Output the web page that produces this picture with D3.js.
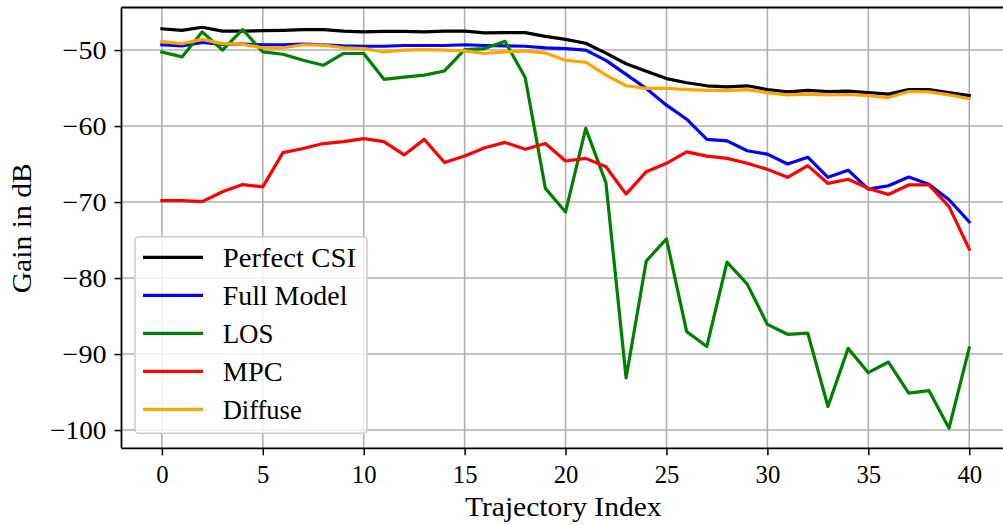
<!DOCTYPE html>
<html>
<head>
<meta charset="utf-8">
<script src="https://cdn.jsdelivr.net/npm/d3@7"></script>
<style>
  html, body { margin: 0; padding: 0; background: #fff; }
  svg { display: block; }
  text { font-family: "Liberation Serif", "DejaVu Serif", serif; fill: #000; }
</style>
</head>
<body>
<svg id="chart" width="1003" height="525"></svg>
<script>
// Trajectory indices 0..40
const trajectoryIndex = d3.range(0, 41);

// Gain per trajectory point, dB
const perfectCSI = [-47.2, -47.4, -47.0, -47.5, -47.5, -47.45, -47.4, -47.3, -47.3, -47.5,
  -47.6, -47.55, -47.55, -47.6, -47.5, -47.5, -47.75, -47.7, -47.7, -48.2,
  -48.6, -49.1, -50.4, -51.8, -52.8, -53.75, -54.3, -54.7, -54.85, -54.7,
  -55.2, -55.5, -55.3, -55.45, -55.4, -55.6, -55.8, -55.2, -55.2, -55.6, -56.0];

const fullModel = [-49.3, -49.45, -49.0, -49.25, -49.2, -49.3, -49.3, -49.2, -49.3, -49.45,
  -49.5, -49.5, -49.4, -49.4, -49.4, -49.3, -49.4, -49.45, -49.5, -49.7,
  -49.8, -50.0, -51.35, -53.2, -55.05, -57.25, -59.1, -61.75, -61.95, -63.25,
  -63.7, -65.0, -64.1, -66.75, -65.8, -68.3, -67.85, -66.7, -67.65, -69.7, -72.6];

const los = [-50.25, -50.9, -47.6, -50.0, -47.3, -50.25, -50.55, -51.35, -52.0, -50.45,
  -50.45, -53.85, -53.55, -53.3, -52.75, -49.95, -49.8, -48.85, -53.6, -68.2,
  -71.3, -60.3, -67.45, -93.15, -77.75, -74.85, -87.05, -89.0, -77.9, -80.8,
  -86.1, -87.4, -87.25, -96.9, -89.25, -92.45, -91.05, -95.15, -94.8, -99.75, -89.2];

const mpc = [-69.8, -69.8, -69.95, -68.65, -67.7, -68.0, -63.5, -62.95, -62.3, -62.05,
  -61.65, -62.05, -63.8, -61.75, -64.8, -63.95, -62.85, -62.15, -63.05, -62.3,
  -64.6, -64.25, -65.35, -68.95, -66.0, -64.9, -63.4, -63.95, -64.25, -64.9,
  -65.7, -66.75, -65.2, -67.55, -67.0, -68.2, -69.0, -67.75, -67.75, -70.6, -76.2];

const diffuse = [-48.9, -49.15, -48.6, -49.15, -49.25, -49.7, -49.7, -49.3, -49.35, -49.7,
  -49.8, -50.25, -50.0, -49.95, -50.0, -50.1, -50.45, -50.25, -50.1, -50.4,
  -51.35, -51.6, -53.3, -54.7, -55.05, -55.05, -55.2, -55.3, -55.35, -55.2,
  -55.6, -55.9, -55.8, -55.9, -55.85, -56.0, -56.25, -55.45, -55.5, -55.9, -56.4];

const seriesNames = ["Perfect CSI", "Full Model", "LOS", "MPC", "Diffuse"];
const seriesValues = [perfectCSI, fullModel, los, mpc, diffuse];
const seriesColors = ["#000000", "#0000ff", "#008000", "#ff0000", "#ffa500"];

const xTicks = [0, 5, 10, 15, 20, 25, 30, 35, 40];
const yTicks = [-100, -90, -80, -70, -60, -50];

const svg = d3.select("#chart");
const plot = { left: 121.5, right: 1009.6, top: 7.5, bottom: 448.3 };

const x = d3.scaleLinear().domain([-2, 42]).range([plot.left, plot.right]);
const y = d3.scaleLinear().domain([-102.4, -44.4]).range([plot.bottom, plot.top]);

const fmtMinus = v => (v < 0 ? "\u2212" + Math.abs(v) : String(v));
// width of a numeric label set in a wide book-style serif
const labelWidth = s => 24.7 * ((s.startsWith("\u2212") ? 0.778 : 0) + 0.5 * s.replace("\u2212", "").length);
// a wider serif look for words, approximated per string
const wordWidths = {
  "Perfect CSI": 133.3, "Full Model": 124.7, "LOS": 50.7, "MPC": 60, "Diffuse": 79,
  "Trajectory Index": 196.7, "Gain in dB": 130
};

// grid
const grid = svg.append("g");
grid.selectAll("line.gx").data(xTicks).join("line")
  .attr("x1", d => x(d)).attr("x2", d => x(d))
  .attr("y1", plot.top).attr("y2", plot.bottom)
  .attr("stroke", "#b0b0b0").attr("stroke-width", 1.6);
grid.selectAll("line.gy").data(yTicks).join("line")
  .attr("x1", plot.left).attr("x2", plot.right)
  .attr("y1", d => y(d)).attr("y2", d => y(d))
  .attr("stroke", "#b0b0b0").attr("stroke-width", 1.6);

// series lines
const line = d3.line().x((d, i) => x(trajectoryIndex[i])).y(d => y(d));
const lines = svg.append("g");
seriesValues.forEach((vals, k) => {
  lines.append("path")
    .attr("d", line(vals))
    .attr("fill", "none")
    .attr("stroke", seriesColors[k])
    .attr("stroke-width", 3.2)
    .attr("stroke-linejoin", "round")
    .attr("stroke-linecap", "square");
});

// axes
const xAxis = d3.axisBottom(x).tickValues(xTicks).tickSize(7).tickPadding(9).tickFormat(fmtMinus);
const yAxis = d3.axisLeft(y).tickValues(yTicks).tickSize(7).tickPadding(8).tickFormat(fmtMinus);

const gx = svg.append("g").attr("transform", `translate(0,${plot.bottom})`).call(xAxis);
const gy = svg.append("g").attr("transform", `translate(${plot.left},0)`).call(yAxis);
[gx, gy].forEach(g => {
  g.select(".domain").remove();
  g.selectAll(".tick line").attr("stroke", "#000").attr("stroke-width", 1.5);
  g.selectAll(".tick text").attr("font-family", "Liberation Serif, serif")
    .attr("font-size", 26).attr("fill", "#000")
    .attr("textLength", function () { return labelWidth(this.textContent); })
    .attr("lengthAdjust", "spacingAndGlyphs");
});
gx.selectAll(".tick text").attr("dy", "0.71em");

// spines
const spine = (x1, y1, x2, y2) => svg.append("line")
  .attr("x1", x1).attr("y1", y1).attr("x2", x2).attr("y2", y2)
  .attr("stroke", "#000").attr("stroke-width", 1.8);
spine(plot.left, plot.top, plot.left, plot.bottom);
spine(plot.left, plot.bottom, plot.right, plot.bottom);
spine(plot.left, plot.top, plot.right, plot.top);
spine(plot.right, plot.top, plot.right, plot.bottom);

// axis titles
svg.append("text")
  .attr("x", 563.3).attr("y", 516)
  .attr("text-anchor", "middle").attr("font-size", 27)
  .attr("textLength", wordWidths["Trajectory Index"]).attr("lengthAdjust", "spacingAndGlyphs")
  .text("Trajectory Index");
svg.append("text")
  .attr("transform", "translate(31,228.3) rotate(-90)")
  .attr("text-anchor", "middle").attr("font-size", 27)
  .attr("textLength", wordWidths["Gain in dB"]).attr("lengthAdjust", "spacingAndGlyphs")
  .text("Gain in dB");

// legend
const legend = svg.append("g");
legend.append("rect")
  .attr("x", 135).attr("y", 236.7).attr("width", 232).attr("height", 196.6)
  .attr("rx", 4).attr("ry", 4)
  .attr("fill", "#fff").attr("fill-opacity", 0.8)
  .attr("stroke", "#cccccc").attr("stroke-width", 1.5);
seriesNames.forEach((name, k) => {
  const cy = 257.3 + k * 38;
  legend.append("line")
    .attr("x1", 143).attr("x2", 203).attr("y1", cy).attr("y2", cy)
    .attr("stroke", seriesColors[k]).attr("stroke-width", 3.2);
  legend.append("text")
    .attr("x", 222.7).attr("y", cy + 9.5)
    .attr("font-size", 27)
    .attr("textLength", wordWidths[name]).attr("lengthAdjust", "spacingAndGlyphs")
    .text(name);
});
</script>
</body>
</html>
